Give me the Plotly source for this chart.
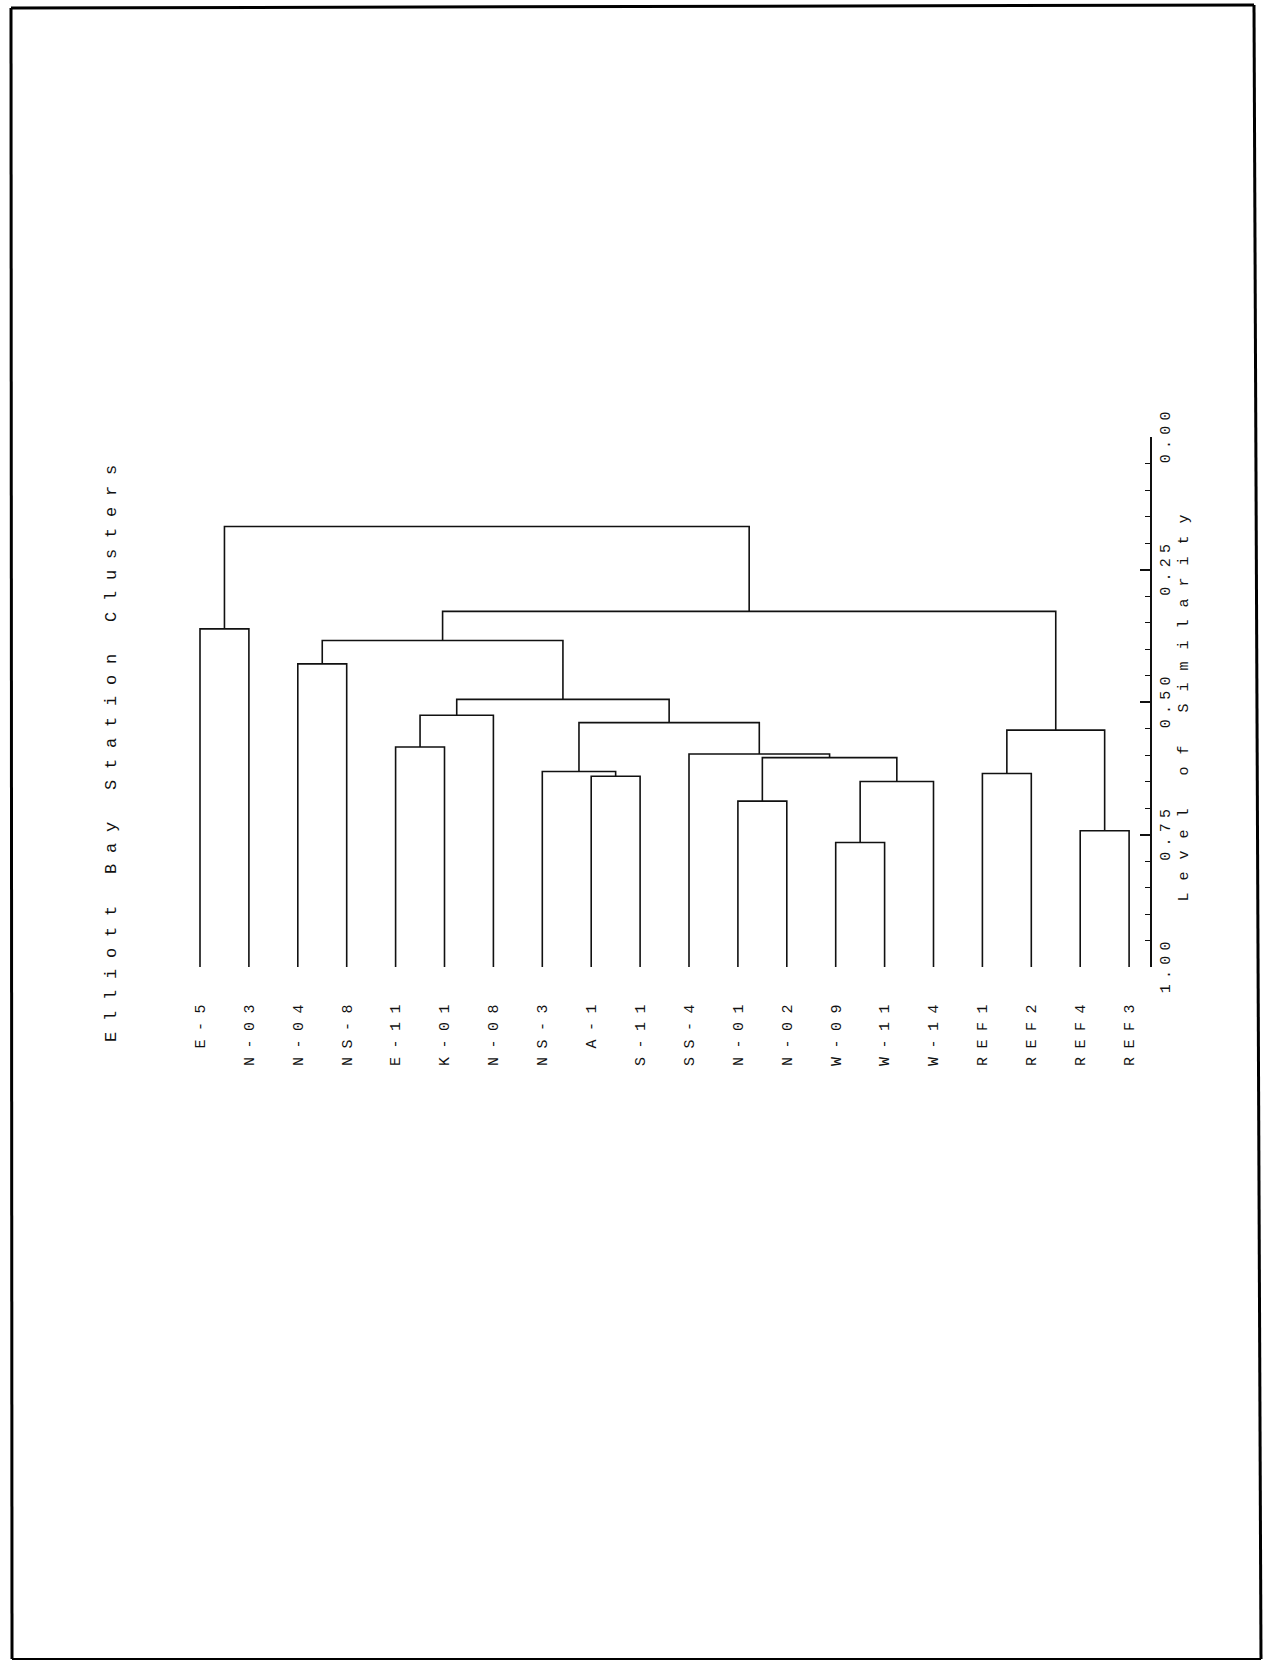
import plotly.graph_objects as go

# ---------------- data ----------------
leaves = ["E-5", "N-03", "N-04", "NS-8", "E-11", "K-01", "N-08", "NS-3", "A-1", "S-11",
          "SS-4", "N-01", "N-02", "W-09", "W-11", "W-14", "REF1", "REF2", "REF4", "REF3"]

merge_ids = ["c1", "c2", "c3", "c4", "c5", "c6", "c7", "c8", "c9", "c10",
             "c11", "c12", "c13", "c14", "c15", "c16", "c17", "c18", "c19"]
merge_left = ["E-5", "N-04", "E-11", "c3", "A-1", "NS-3", "W-09", "c7", "N-01", "c9",
              "SS-4", "c6", "c4", "c2", "REF1", "REF4", "c15", "c14", "c1"]
merge_right = ["N-03", "NS-8", "K-01", "N-08", "S-11", "c5", "W-11", "W-14", "N-02", "c8",
               "c10", "c11", "c12", "c13", "REF2", "REF3", "c16", "c17", "c18"]
merge_level = [0.362, 0.428, 0.585, 0.525, 0.640, 0.631, 0.765, 0.650, 0.687, 0.605,
               0.598, 0.539, 0.495, 0.384, 0.635, 0.743, 0.553, 0.329, 0.169]
leaf_level = 1.0

y_tick_vals = [0.00, 0.25, 0.50, 0.75, 1.00]
y_tick_text = ["0.00", "0.25", "0.50", "0.75", "1.00"]

title_text = "Elliott Bay Station Clusters"
axis_title_text = "Level of Similarity"

# ---------------- layout geometry (page pixels) ----------------
FIG_W, FIG_H = 1263, 1661
L, R, T, B = 176, 1150, 437, 967
PW, PH = R - L, B - T
LEAF0_PX, LEAF_STEP = 200.0, 48.9

def px2x(px):
    return (px - L) / PW

def py2y(py):
    return (B - py) / PH

def spaced(s, ls):
    return f'<span style="letter-spacing:{ls}px">{s}</span>'

FONT = "Liberation Mono"
INK = "#111111"

# ---------------- dendrogram ----------------
pos = {name: i for i, name in enumerate(leaves)}
lvl = {name: leaf_level for name in leaves}

fig = go.Figure()
for mid, a, b, h in zip(merge_ids, merge_left, merge_right, merge_level):
    xa, xb = pos[a], pos[b]
    fig.add_trace(go.Scatter(
        x=[xa, xa, xb, xb],
        y=[lvl[a], h, h, lvl[b]],
        mode="lines",
        line=dict(color=INK, width=1.6),
        hoverinfo="skip",
        showlegend=False,
    ))
    pos[mid] = (xa + xb) / 2.0
    lvl[mid] = h

x_lo = (L - LEAF0_PX) / LEAF_STEP
x_hi = (R - LEAF0_PX) / LEAF_STEP

# ---------------- page frame ----------------
frame = [((11, 8), (1254, 5), 3), ((11, 8), (12, 1659), 3),
         ((1254, 5), (1261, 1659), 3), ((12, 1659), (1261, 1659), 2)]
shapes = []
for (x0, y0), (x1, y1), w in frame:
    shapes.append(dict(type="line", xref="paper", yref="paper",
                       x0=px2x(x0), y0=py2y(y0), x1=px2x(x1), y1=py2y(y1),
                       line=dict(color="#000000", width=w), layer="above"))

fig.update_layout(
    width=FIG_W, height=FIG_H,
    margin=dict(l=L, r=FIG_W - R, t=T, b=FIG_H - B, pad=0),
    paper_bgcolor="white", plot_bgcolor="white",
    showlegend=False,
    xaxis=dict(
        range=[x_lo, x_hi], tickmode="array",
        tickvals=list(range(len(leaves))),
        ticktext=[spaced(s, 8.5) for s in leaves],
        tickangle=-90, ticks="outside", ticklen=22,
        tickcolor="rgba(0,0,0,0)",
        tickfont=dict(family=FONT, size=15, color=INK),
        showline=False, showgrid=False, zeroline=False, fixedrange=True,
    ),
    yaxis=dict(
        range=[1.0, 0.0], side="right",
        showline=True, linecolor=INK, linewidth=1.6, mirror=False,
        ticks="inside", ticklen=10, tickwidth=1.6, tickcolor=INK,
        tickmode="array", tickvals=y_tick_vals,
        ticktext=[spaced(s, 5.3) for s in y_tick_text],
        tickangle=-90,
        tickfont=dict(family=FONT, size=15, color=INK),
        minor=dict(ticks="inside", ticklen=5, tickwidth=1.4, tickcolor=INK,
                   dtick=0.05, tick0=0),
        showgrid=False, zeroline=False, fixedrange=True,
        title=dict(text=spaced(axis_title_text, 12),
                   font=dict(family=FONT, size=15, color=INK), standoff=4),
    ),
    shapes=shapes,
    annotations=[dict(
        text=spaced(title_text, 10.8), textangle=-90,
        xref="paper", yref="paper", x=px2x(111), y=py2y(748),
        xanchor="center", yanchor="middle", showarrow=False,
        font=dict(family=FONT, size=17, color=INK),
    )],
)

fig.write_html("out.html", config={"displayModeBar": False},
               post_script="document.body.style.margin='0';")
